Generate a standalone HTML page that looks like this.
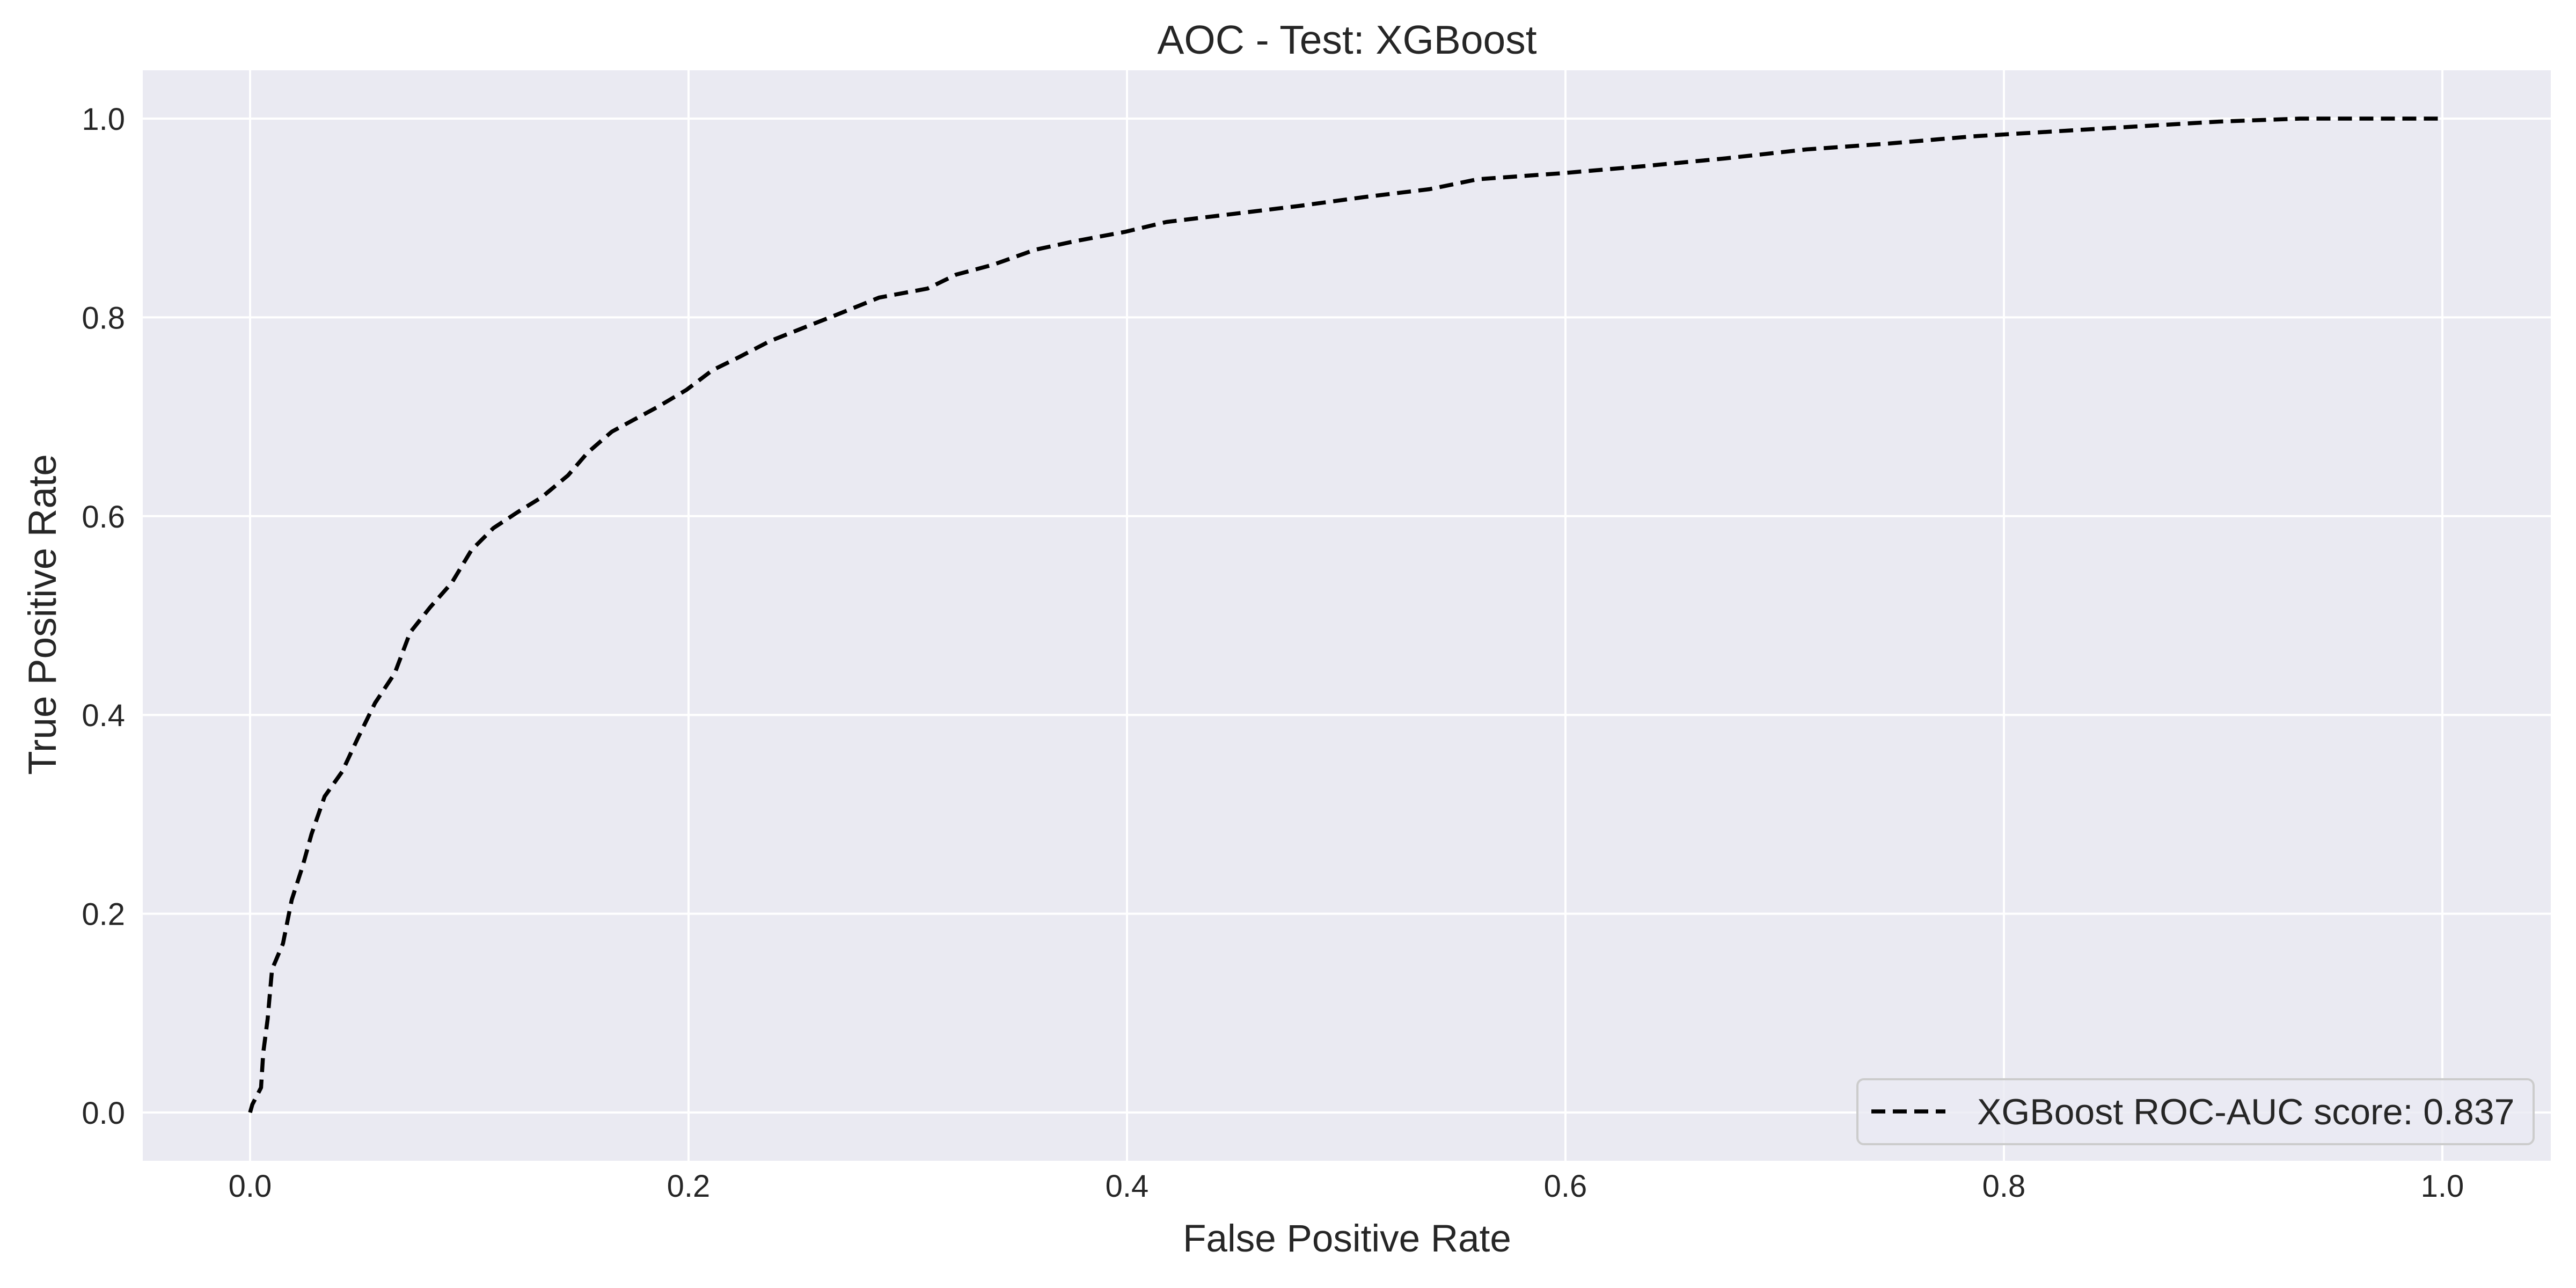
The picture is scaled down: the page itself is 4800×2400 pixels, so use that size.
<!DOCTYPE html>
<html><head><meta charset="utf-8"><style>
html,body{margin:0;padding:0;background:#fff;}
svg{display:block;}
text{font-family:"Liberation Sans",sans-serif;fill:#262626;}
</style></head><body>
<svg id="chart" width="4800" height="2400" xmlns="http://www.w3.org/2000/svg">
<rect x="266" y="131" width="4487" height="2032" fill="#EAEAF2"/>
<g id="grid"></g>
<g id="ticks"></g>
<path id="curve" fill="none" stroke="#000" stroke-width="7.5" stroke-dasharray="26,14" stroke-linejoin="round"/>
<text x="2510" y="100" font-size="75" text-anchor="middle">AOC - Test: XGBoost</text>
<text x="2510" y="2332" font-size="71" text-anchor="middle">False Positive Rate</text>
<text transform="translate(104,1145) rotate(-90)" font-size="73" text-anchor="middle">True Positive Rate</text>
<g>
<rect x="3461" y="2011" width="1260" height="121" rx="12" fill="#EAEAF2" fill-opacity="0.8" stroke="#cccccc" stroke-width="4"/>
<line x1="3487" y1="2071" x2="3625" y2="2071" stroke="#000" stroke-width="7.5" stroke-dasharray="26,14"/>
<text x="3684" y="2095" font-size="68">XGBoost ROC-AUC score: 0.837</text>
</g>
</svg>
<script>
const fpr=[0,0.001,0.005,0.006,0.008,0.010,0.015,0.019,0.024,0.028,0.034,0.042,0.049,0.057,0.066,0.073,0.082,0.092,0.101,0.111,0.122,0.133,0.145,0.154,0.165,0.175,0.186,0.199,0.211,0.223,0.237,0.253,0.268,0.287,0.309,0.322,0.339,0.358,0.377,0.399,0.418,0.448,0.478,0.508,0.538,0.560,0.598,0.635,0.673,0.710,0.748,0.785,0.822,0.860,0.898,0.935,1];
const tpr=[0,0.008,0.025,0.06,0.094,0.144,0.17,0.214,0.248,0.28,0.318,0.343,0.376,0.412,0.442,0.483,0.508,0.533,0.566,0.588,0.604,0.619,0.641,0.664,0.685,0.697,0.710,0.727,0.747,0.760,0.776,0.790,0.803,0.820,0.829,0.843,0.853,0.868,0.877,0.886,0.896,0.904,0.912,0.921,0.929,0.939,0.945,0.952,0.960,0.969,0.975,0.982,0.987,0.992,0.997,1.0,1.0];
const xTicks=[0,0.2,0.4,0.6,0.8,1.0];
const yTicks=[0,0.2,0.4,0.6,0.8,1.0];
const xLabels=["0.0","0.2","0.4","0.6","0.8","1.0"];
const yLabels=["0.0","0.2","0.4","0.6","0.8","1.0"];
function X(v){return 466+v*4085;}
function Y(v){return 2073-v*1852;}
const NS="http://www.w3.org/2000/svg";
const grid=document.getElementById('grid'),ticks=document.getElementById('ticks');
xTicks.forEach((t,i)=>{
 const l=document.createElementNS(NS,'line');
 l.setAttribute('x1',X(t));l.setAttribute('x2',X(t));l.setAttribute('y1',131);l.setAttribute('y2',2163);
 l.setAttribute('stroke','#fff');l.setAttribute('stroke-width',4);
 
 
 grid.appendChild(l);
 const tx=document.createElementNS(NS,'text');
 tx.setAttribute('x',X(t));tx.setAttribute('y',2230);tx.setAttribute('font-size',58);tx.setAttribute('text-anchor','middle');
 tx.textContent=xLabels[i];
 
 
 ticks.appendChild(tx);
});
yTicks.forEach((t,i)=>{
 const l=document.createElementNS(NS,'line');
 l.setAttribute('y1',Y(t));l.setAttribute('y2',Y(t));l.setAttribute('x1',266);l.setAttribute('x2',4753);
 l.setAttribute('stroke','#fff');l.setAttribute('stroke-width',4);
 
 
 grid.appendChild(l);
 const tx=document.createElementNS(NS,'text');
 tx.setAttribute('x',233);tx.setAttribute('y',Y(t)+21);tx.setAttribute('font-size',58);tx.setAttribute('text-anchor','end');
 tx.textContent=yLabels[i];
 
 
 ticks.appendChild(tx);
});
let d='';
fpr.forEach((f,i)=>{d+=(i?'L':'M')+X(f).toFixed(1)+','+Y(tpr[i]).toFixed(1);});
document.getElementById('curve').setAttribute('d',d);
</script>
</body></html>
